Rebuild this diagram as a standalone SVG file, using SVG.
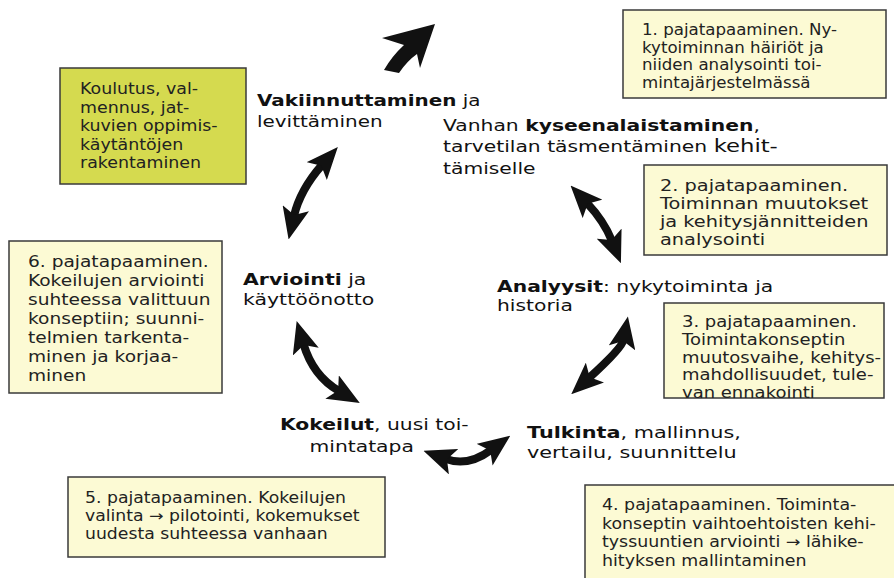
<svg xmlns="http://www.w3.org/2000/svg" width="894" height="578" viewBox="0 0 894 578">
  <defs>
    <style>
      .box { fill: #fcfad4; stroke: #3a3a3a; stroke-width: 1.5; }
      .box-green { fill: #d5da4f; stroke: #3a3a3a; stroke-width: 1.5; }
      .note { font-family: "DejaVu Sans", Verdana, sans-serif; font-size: 15px; fill: #222; }
      .label { font-family: "DejaVu Sans", Verdana, sans-serif; font-size: 16.5px; fill: #111; }
      .b { font-weight: bold; }
      .arrow { fill: none; stroke: #111; stroke-width: 8; marker-start: url(#head); marker-end: url(#head); }
    </style>
    <marker id="head" viewBox="0 0 32 27" markerWidth="32" markerHeight="27" markerUnits="userSpaceOnUse" refX="8" refY="13.5" orient="auto-start-reverse">
      <path d="M0,0 L32,13.5 L0,27 L7,13.5 Z" fill="#111"/>
    </marker>
    <clipPath id="clip3">
      <rect x="664" y="303" width="220" height="95"/>
    </clipPath>
  </defs>

  <rect width="894" height="578" fill="#ffffff"/>

  <!-- meeting notes -->
  <g id="meeting1">
    <rect class="box" x="623" y="10" width="263" height="88"/>
    <g transform="translate(642,0) scale(1.11,1)">
      <text class="note" x="0" y="35">1. pajatapaaminen. Ny-<tspan x="0" dy="17.7">kytoiminnan häiriöt ja</tspan><tspan x="0" dy="17.7">niiden analysointi toi-</tspan><tspan x="0" dy="17.7">mintajärjestelmässä</tspan></text>
    </g>
  </g>

  <g id="training">
    <rect class="box-green" x="60" y="68" width="186" height="116"/>
    <g transform="translate(80,0) scale(1.16,1)">
      <text class="note" x="0" y="94">Koulutus, val-<tspan x="0" dy="18.6">mennus, jat-</tspan><tspan x="0" dy="18.6">kuvien oppimis-</tspan><tspan x="0" dy="18.6">käytäntöjen</tspan><tspan x="0" dy="18.6">rakentaminen</tspan></text>
    </g>
  </g>

  <g id="meeting2">
    <rect class="box" x="644" y="165" width="243" height="90"/>
    <g transform="translate(660,0) scale(1.29,1)">
      <text class="note" x="0" y="191">2. pajatapaaminen.<tspan x="0" dy="18">Toiminnan muutokset</tspan><tspan x="0" dy="18">ja kehitysjännitteiden</tspan><tspan x="0" dy="18">analysointi</tspan></text>
    </g>
  </g>

  <g id="meeting3">
    <rect class="box" x="664" y="303" width="220" height="95"/>
    <g clip-path="url(#clip3)">
      <g transform="translate(682,0) scale(1.2,1)">
        <text class="note" x="0" y="327">3. pajatapaaminen.<tspan x="0" dy="17.8">Toimintakonseptin</tspan><tspan x="0" dy="17.8">muutosvaihe, kehitys-</tspan><tspan x="0" dy="17.8">mahdollisuudet, tule-</tspan><tspan x="0" dy="17.8">van ennakointi</tspan></text>
      </g>
    </g>
  </g>

  <g id="meeting4">
    <rect class="box" x="585" y="485" width="320" height="100"/>
    <g transform="translate(602,0) scale(1.16,1)">
      <text class="note" x="0" y="510">4. pajatapaaminen. Toiminta-<tspan x="0" dy="18.7">konseptin vaihtoehtoisten kehi-</tspan><tspan x="0" dy="18.7">tyssuuntien arviointi → lähike-</tspan><tspan x="0" dy="18.7">hityksen mallintaminen</tspan></text>
    </g>
  </g>

  <g id="meeting5">
    <rect class="box" x="68" y="477" width="317" height="80"/>
    <g transform="translate(85,0) scale(1.15,1)">
      <text class="note" x="0" y="503">5. pajatapaaminen. Kokeilujen<tspan x="0" dy="17.8">valinta → pilotointi, kokemukset</tspan><tspan x="0" dy="17.8">uudesta suhteessa vanhaan</tspan></text>
    </g>
  </g>

  <g id="meeting6">
    <rect class="box" x="9" y="241" width="213" height="152"/>
    <g transform="translate(28,0) scale(1.24,1)">
      <text class="note" x="0" y="267">6. pajatapaaminen.<tspan x="0" dy="19">Kokeilujen arviointi</tspan><tspan x="0" dy="19">suhteessa valittuun</tspan><tspan x="0" dy="19">konseptiin; suunni-</tspan><tspan x="0" dy="19">telmien tarkenta-</tspan><tspan x="0" dy="19">minen ja korjaa-</tspan><tspan x="0" dy="19">minen</tspan></text>
    </g>
  </g>

  <!-- cycle phases -->
  <g id="phase-questioning" transform="translate(443,0) scale(1.23,1)">
    <text class="label" x="0" y="131">Vanhan <tspan class="b">kyseenalaistaminen</tspan>,<tspan x="0" dy="21">tarvetilan täsmentäminen </tspan><tspan font-size="18.5">kehit-</tspan><tspan x="0" dy="22">tämiselle</tspan></text>
  </g>

  <g id="phase-analysis" transform="translate(497,0) scale(1.23,1)">
    <text class="label" x="0" y="292"><tspan class="b">Analyysit</tspan>: nykytoiminta ja<tspan x="0" dy="19.5">historia</tspan></text>
  </g>

  <g id="phase-interpretation" transform="translate(527,0) scale(1.26,1)">
    <text class="label" x="0" y="438"><tspan class="b">Tulkinta</tspan>, mallinnus,<tspan x="0" dy="20">vertailu, suunnittelu</tspan></text>
  </g>

  <g id="phase-experiments" transform="translate(280,0) scale(1.23,1)">
    <text class="label" x="0" y="430"><tspan class="b">Kokeilut</tspan>, uusi toi-<tspan x="24" dy="22">mintatapa</tspan></text>
  </g>

  <g id="phase-evaluation" transform="translate(243,0) scale(1.24,1)">
    <text class="label" x="0" y="285"><tspan class="b">Arviointi</tspan> ja<tspan x="0" dy="20.5">käyttöönotto</tspan></text>
  </g>

  <g id="phase-consolidation" transform="translate(257,0) scale(1.21,1)">
    <text class="label" x="0" y="106"><tspan class="b">Vakiinnuttaminen</tspan> ja<tspan x="0" dy="21">levittäminen</tspan></text>
  </g>

  <!-- connectors between phases -->
  <g id="connectors">
    <path d="M435,24 L382,38 L404,45 Q392,56 384,70 L399,73 Q407,61 417,54 L420,68 Z" fill="#111"/>
    <path class="arrow" d="M587,203 Q604,221 612,241"/>
    <path class="arrow" d="M623.5,340 Q622,348 589,378"/>
    <path class="arrow" d="M446,459 Q468,467 491,450"/>
    <path class="arrow" d="M303.5,344 Q313,376 339,391"/>
    <path class="arrow" d="M322,165 Q300,190 294,216"/>
  </g>
</svg>
